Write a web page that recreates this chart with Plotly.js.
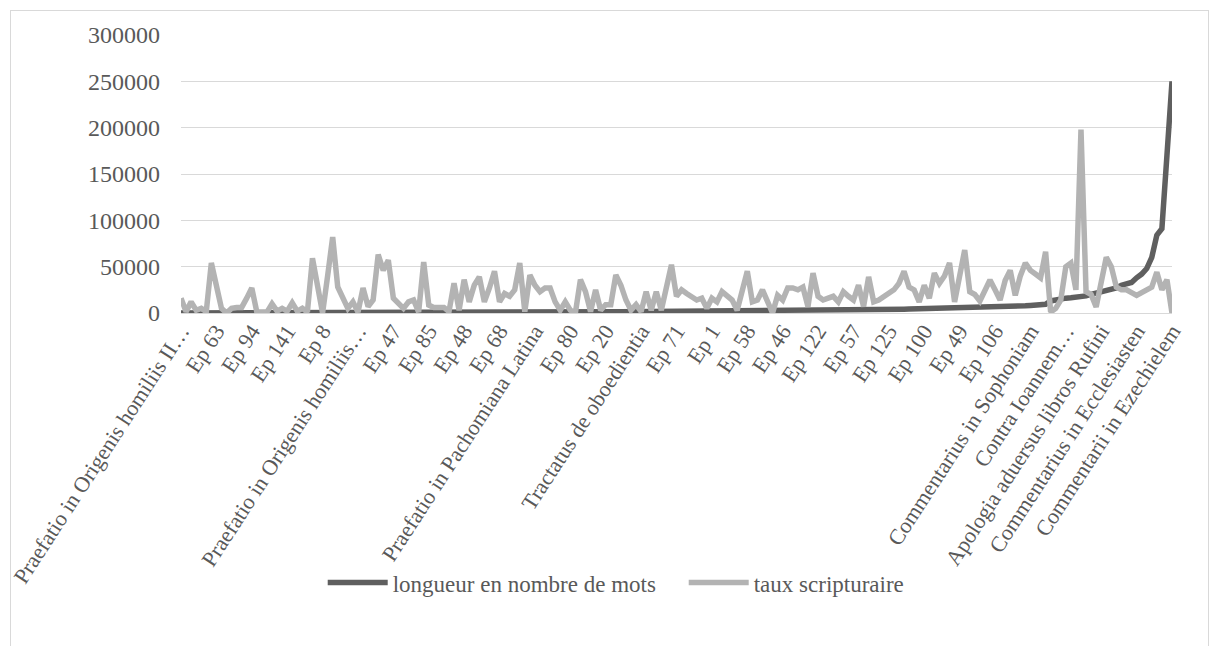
<!DOCTYPE html>
<html>
<head>
<meta charset="utf-8">
<script src="https://cdn.plot.ly/plotly-3.0.1.min.js"></script>
<style>
  html, body { margin: 0; padding: 0; background: #fff; }
  #frame { position: absolute; left: 10px; top: 10px; width: 1199px; height: 660px; border: 1px solid #d9d9d9; box-sizing: border-box; }
  #chart { position: absolute; left: 0; top: 0; width: 1219px; height: 646px; }
</style>
</head>
<body>
<div id="frame"></div>
<div id="chart"></div>
<script>
// Category tick labels (one shown every 7 categories)
const tickLabels = [
  "Praefatio in Origenis homiliis II…", "Ep 63", "Ep 94", "Ep 141", "Ep 8",
  "Praefatio in Origenis homiliis…", "Ep 47", "Ep 85", "Ep 48", "Ep 68",
  "Praefatio in Pachomiana Latina", "Ep 80", "Ep 20", "Tractatus de oboedientia",
  "Ep 71", "Ep 1", "Ep 58", "Ep 46", "Ep 122", "Ep 57", "Ep 125", "Ep 100",
  "Ep 49", "Ep 106", "Commentarius in Sophoniam", "Contra Ioannem…",
  "Apologia aduersus libros Rufini", "Commentarius in Ecclesiasten",
  "Commentarii in Ezechielem"
];
const labelStep = 7;

// longueur en nombre de mots (sorted ascending)
const longueur = [
  110,140,160,175,190,205,220,235,245,260,
  275,285,300,315,330,345,355,370,385,400,
  410,420,435,450,460,475,490,500,515,530,
  545,560,570,585,600,615,630,645,660,675,
  690,705,720,735,750,760,775,790,805,820,
  835,850,865,880,895,910,925,940,955,970,
  985,1000,1015,1030,1045,1060,1075,1090,1105,1120,
  1135,1150,1165,1180,1200,1215,1230,1250,1265,1280,
  1300,1320,1340,1360,1380,1400,1420,1440,1460,1480,
  1500,1520,1545,1570,1590,1615,1640,1665,1690,1715,
  1740,1770,1800,1830,1860,1890,1920,1950,1980,2010,
  2040,2080,2120,2160,2200,2240,2280,2320,2360,2400,
  2450,2500,2550,2600,2650,2700,2760,2820,2880,2940,
  3000,3070,3140,3210,3280,3350,3430,3510,3600,3700,
  3800,3900,4000,4100,4200,4300,4420,4540,4660,4780,
  4900,5050,5200,5350,5500,5650,5800,5950,6100,6250,
  6400,6600,6800,7000,7200,7400,7650,7900,8200,8500,
  8800,9400,13000,14500,15500,16000,16500,17000,17500,18500,
  20000,21500,23000,24000,25000,27000,30000,32000,33000,38000,
  42000,48000,60000,84000,91000,170000,250000
];

// taux scripturaire
const taux = [
  16000,1500,12000,3000,5000,1500,54000,28000,5000,0,
  5000,6000,6000,16000,27000,1000,1000,1000,10000,2000,
  5000,2000,11000,2000,5000,1000,59000,28000,0,40000,
  82000,28000,16000,5000,12000,1000,27000,7000,14000,63000,
  46000,57000,16000,11000,5000,12000,14000,1000,55000,8500,
  6000,6000,6000,1500,32000,3000,36000,12000,30000,39000,
  12000,27000,45000,12000,21000,18000,25000,54000,1500,41000,
  30000,23000,27000,27000,12000,3000,12000,3000,0,36000,
  23000,1500,25000,3000,9000,9000,41000,30000,14000,3000,
  9000,1500,23000,3000,23000,3000,30000,52000,18000,25000,
  21000,18000,14000,16000,5000,16000,12000,23000,19000,14000,
  3000,27000,45000,12000,14000,25000,14000,0,19000,14000,
  27000,27000,25000,28000,7000,43000,18000,14000,16000,18000,
  12000,23000,18000,14000,30000,7000,39000,12000,14000,18000,
  21000,25000,32000,45000,28000,25000,12000,30000,16000,43000,
  32000,40000,54000,12000,40000,68000,23000,20000,13000,25000,
  35600,25000,14000,35000,46000,19000,40000,54000,46000,42000,
  37800,66000,1000,5000,14000,50000,54000,25000,198000,23000,
  20000,6500,35000,60000,50000,28000,25000,25000,22000,19000,
  22000,25000,28000,44000,25000,36000,0
];

const xIdx = longueur.map((_, i) => i);
const tickVals = tickLabels.map((_, k) => k * labelStep);

const fontFam = '"Liberation Serif", "DejaVu Serif", serif';
const txtColor = '#595959';

const traces = [
  { x: xIdx, y: longueur, type: 'scatter', mode: 'lines', name: 'longueur en nombre de mots',
    line: { color: '#5f5f5f', width: 5.5, shape: 'linear' }, hoverinfo: 'skip' },
  { x: xIdx, y: taux, type: 'scatter', mode: 'lines', name: 'taux scripturaire',
    line: { color: '#b3b3b3', width: 5.5, shape: 'linear' }, hoverinfo: 'skip' }
];

const layout = {
  width: 1219, height: 646,
  paper_bgcolor: 'rgba(0,0,0,0)', plot_bgcolor: 'rgba(0,0,0,0)',
  margin: { l: 181, r: 47, t: 35, b: 333 },
  font: { family: fontFam, size: 22, color: txtColor },
  showlegend: true,
  legend: { orientation: 'h', x: 0.143, xanchor: 'left', y: -0.97, yanchor: 'middle',
    font: { family: fontFam, size: 23, color: txtColor }, itemwidth: 60, traceorder: 'normal',
    entrywidth: 286, entrywidthmode: 'pixels' },
  xaxis: {
    range: [0, longueur.length - 1], tickmode: 'array', tickvals: tickVals, ticktext: tickLabels,
    tickangle: -57, showgrid: false, zeroline: false, showline: false, ticks: '',
    ticklabeloverflow: 'allow', automargin: false, fixedrange: true,
    tickfont: { family: fontFam, size: 22, color: txtColor }
  },
  yaxis: {
    range: [0, 300000], dtick: 50000, tick0: 0, tickformat: 'd',
    showgrid: true, gridcolor: '#d9d9d9', gridwidth: 1,
    zeroline: true, zerolinecolor: '#d9d9d9', zerolinewidth: 1,
    showline: false, ticks: '', ticklabelstandoff: 20, automargin: false, fixedrange: true,
    tickfont: { family: fontFam, size: 24, color: txtColor }
  }
};

Plotly.newPlot('chart', traces, layout, { displayModeBar: false, staticPlot: true });
</script>
</body>
</html>
